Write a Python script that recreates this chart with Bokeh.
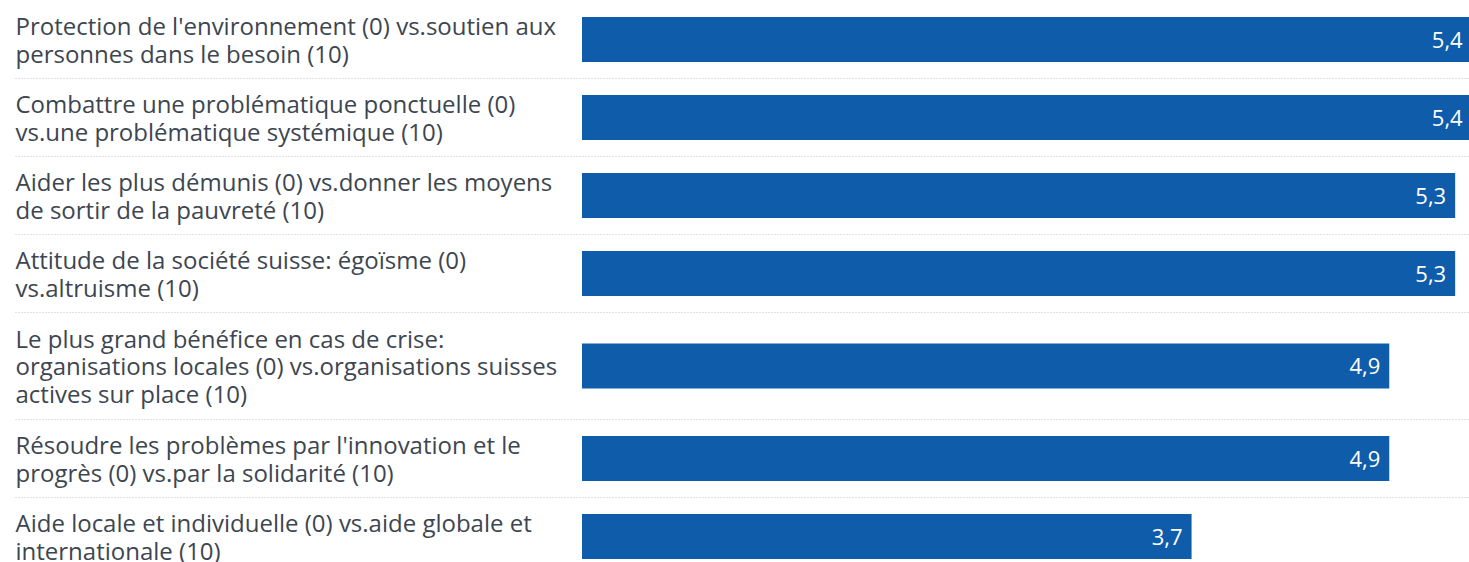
from bokeh.plotting import figure
from bokeh.models import Range1d, ColumnDataSource
from bokeh.core.properties import value
from bokeh.embed import file_html
from bokeh.resources import INLINE

# ---- data ----
labels = [
    "Protection de l'environnement (0) vs.soutien aux\npersonnes dans le besoin (10)",
    "Combattre une problématique ponctuelle (0)\nvs.une problématique systémique (10)",
    "Aider les plus démunis (0) vs.donner les moyens\nde sortir de la pauvreté (10)",
    "Attitude de la société suisse: égoïsme (0)\nvs.altruisme (10)",
    "Le plus grand bénéfice en cas de crise:\norganisations locales (0) vs.organisations suisses\nactives sur place (10)",
    "Résoudre les problèmes par l'innovation et le\nprogrès (0) vs.par la solidarité (10)",
    "Aide locale et individuelle (0) vs.aide globale et\ninternationale (10)",
]
values = [5.4, 5.4, 5.3, 5.3, 4.9, 4.9, 3.7]
value_labels = ["5,4", "5,4", "5,3", "5,3", "4,9", "4,9", "3,7"]

# ---- layout ----
W, H = 1469, 562
ZERO_PX = 581.5
PPU = 164.75
LINE_H = 29
x_start = -ZERO_PX / PPU
x_end = x_start + W / PPU
label_x = x_start + 15 / PPU

centers, bounds = [], []
top = 0
for lab in labels:
    n = lab.count("\n") + 1
    h = 20 + LINE_H * n
    centers.append(top + h / 2)
    top += h
    bounds.append(top)
bounds = bounds[:-1]

src = ColumnDataSource(dict(y=centers, v=values, lab=labels, vl=value_labels,
                            lx=[label_x] * len(labels)))

p = figure(width=W, height=H, output_backend="svg", toolbar_location=None,
           x_range=Range1d(x_start, x_end), y_range=Range1d(H, 0),
           min_border=0, outline_line_color=None, background_fill_color="white")
p.axis.visible = False
p.grid.visible = False

p.segment(x0=[label_x] * len(bounds), x1=[x_end] * len(bounds), y0=bounds, y1=bounds,
          line_color="#c4c4c4", line_width=1, line_dash="1 2")

p.hbar(y="y", left=0, right="v", height=45, source=src,
       fill_color="#0f5cab", line_color=None)

p.text(x="lx", y="y", text="lab", source=src, text_align="left", text_baseline="middle",
       text_font=value("Open Sans"), text_font_size="24px", text_color="#3d4650",
       text_line_height=0.84)

p.text(x="v", y="y", text="vl", source=src, text_align="right", text_baseline="middle",
       x_offset=-9, text_font=value("Open Sans"), text_font_size="22px", text_color="white")

open("out.html", "w").write(file_html(p, INLINE))
